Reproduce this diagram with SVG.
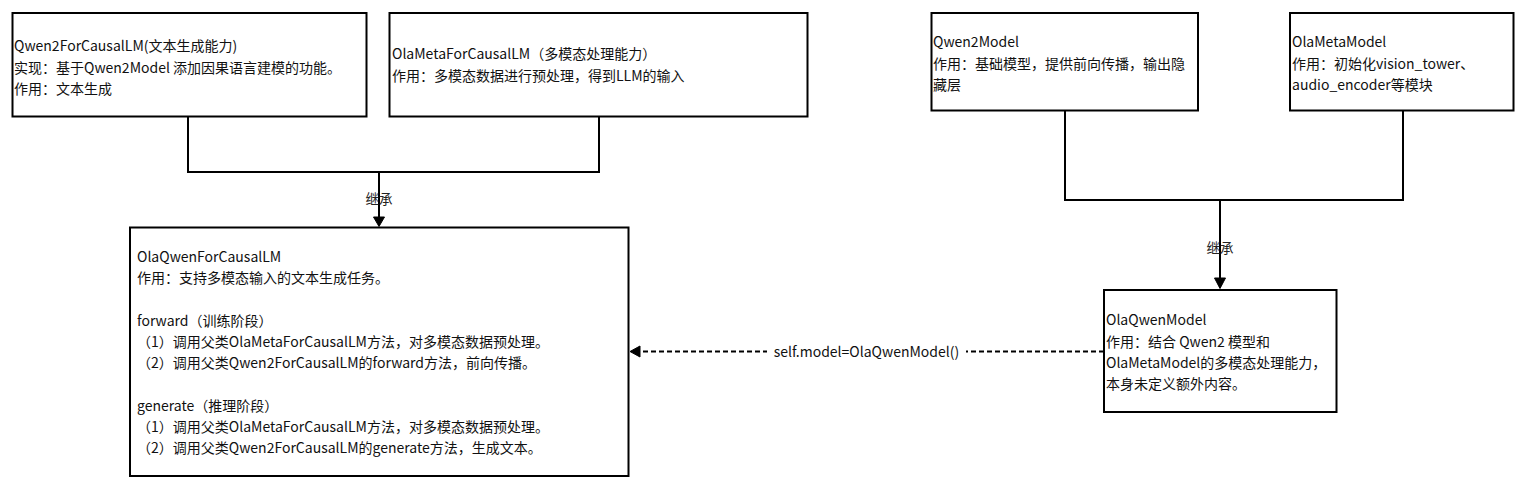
<svg xmlns="http://www.w3.org/2000/svg" width="1527" height="488" viewBox="0 0 1527 488">
<style>
.box{fill:#fff;stroke:#000;stroke-width:2}
.t{font-family:"Noto Sans CJK SC","Noto Sans",sans-serif;font-size:14px;fill:#111}
.lbl{font-family:"Noto Sans CJK SC","Noto Sans",sans-serif;font-size:13.5px;fill:#222;text-anchor:middle}
.edge{fill:none;stroke:#000;stroke-width:2}
.dash{fill:none;stroke:#000;stroke-width:2;stroke-dasharray:5 3}
.head{fill:#000;stroke:#000;stroke-width:1}
</style>
<rect width="1527" height="488" fill="#fff"/>
<g id="connectors">
<path class="edge" d="M188,117 V172 H379 V218"/>
<path class="edge" d="M599,117 V172 H379"/>
<polygon class="head" points="373.5,217 384.5,217 379,226.5"/>
<text class="lbl" x="379" y="204">继承</text>
<path class="edge" d="M1065,111 V200 H1220 V279"/>
<path class="edge" d="M1403,111 V200 H1220"/>
<polygon class="head" points="1214.5,278 1225.5,278 1220,288.5"/>
<text class="lbl" x="1220" y="253">继承</text>
<path class="dash" d="M1104,351.5 H640"/>
<polygon class="head" points="640,346 640,357 630,351.5"/>
<rect x="767" y="341" width="199" height="21" fill="#fff"/>
<text class="t" x="866.5" y="356.5" text-anchor="middle">self.model=OlaQwenModel()</text>
</g>
<g id="node-qwen2forcausallm">
<rect class="box" x="12.5" y="13" width="354" height="103.5"/>
<text class="t" x="14" y="51">Qwen2ForCausalLM(文本生成能力)</text>
<text class="t" x="14" y="72.5">实现：基于Qwen2Model 添加因果语言建模的功能。</text>
<text class="t" x="14" y="93.5">作用：文本生成</text>
</g>
<g id="node-olametaforcausallm">
<rect class="box" x="389.5" y="13" width="418" height="103.5"/>
<text class="t" x="392" y="59">OlaMetaForCausalLM（多模态处理能力）</text>
<text class="t" x="392" y="80.5">作用：多模态数据进行预处理，得到LLM的输入</text>
</g>
<g id="node-qwen2model">
<rect class="box" x="931.5" y="13" width="266.5" height="97.5"/>
<text class="t" x="933" y="47">Qwen2Model</text>
<text class="t" x="933" y="68.5">作用：基础模型，提供前向传播，输出隐</text>
<text class="t" x="933" y="90">藏层</text>
</g>
<g id="node-olametamodel">
<rect class="box" x="1290" y="13" width="223.5" height="97.5"/>
<text class="t" x="1292" y="47">OlaMetaModel</text>
<text class="t" x="1292" y="68.5">作用：初始化vision_tower、</text>
<text class="t" x="1292" y="90">audio_encoder等模块</text>
</g>
<g id="node-olaqwenforcausallm">
<rect class="box" x="130" y="227.5" width="498.5" height="248.5"/>
<text class="t" x="137" y="262">OlaQwenForCausalLM</text>
<text class="t" x="137" y="283.3">作用：支持多模态输入的文本生成任务。</text>
<text class="t" x="137" y="325.7">forward（训练阶段）</text>
<text class="t" x="137" y="347">（1）调用父类OlaMetaForCausalLM方法，对多模态数据预处理。</text>
<text class="t" x="137" y="368.3">（2）调用父类Qwen2ForCausalLM的forward方法，前向传播。</text>
<text class="t" x="137" y="410.8">generate（推理阶段）</text>
<text class="t" x="137" y="432">（1）调用父类OlaMetaForCausalLM方法，对多模态数据预处理。</text>
<text class="t" x="137" y="453.3">（2）调用父类Qwen2ForCausalLM的generate方法，生成文本。</text>
</g>
<g id="node-olaqwenmodel">
<rect class="box" x="1104" y="290" width="232.5" height="122"/>
<text class="t" x="1106" y="325">OlaQwenModel</text>
<text class="t" x="1106" y="346.5">作用：结合 Qwen2 模型和</text>
<text class="t" x="1106" y="367.5">OlaMetaModel的多模态处理能力，</text>
<text class="t" x="1106" y="389">本身未定义额外内容。</text>
</g>
</svg>
